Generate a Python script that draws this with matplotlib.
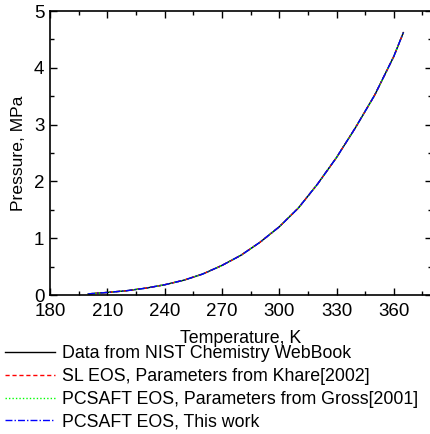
import matplotlib
matplotlib.use("Agg")
import matplotlib.pyplot as plt
import numpy as np
from matplotlib.ticker import MultipleLocator

plt.rcParams['font.family'] = ['Liberation Sans', 'DejaVu Sans']

temperature = [200, 210, 220, 230, 240, 250, 260, 270, 280, 290, 300, 310, 320, 330, 340, 350, 360, 365]
p_nist   = [0.02, 0.045, 0.075, 0.12, 0.18, 0.26, 0.37, 0.52, 0.70, 0.93, 1.20, 1.53, 1.95, 2.42, 2.95, 3.52, 4.20, 4.62]
p_sl     = [0.02, 0.045, 0.075, 0.12, 0.18, 0.26, 0.37, 0.52, 0.70, 0.93, 1.20, 1.53, 1.95, 2.42, 2.95, 3.52, 4.20, 4.62]
p_gross  = [0.02, 0.045, 0.075, 0.12, 0.18, 0.26, 0.37, 0.52, 0.70, 0.93, 1.20, 1.53, 1.95, 2.42, 2.95, 3.52, 4.20, 4.62]
p_this   = [0.02, 0.045, 0.075, 0.12, 0.18, 0.26, 0.37, 0.52, 0.70, 0.93, 1.20, 1.53, 1.95, 2.42, 2.95, 3.52, 4.20, 4.62]

labels = ["Data from NIST Chemistry WebBook",
          "SL EOS, Parameters from Khare[2002]",
          "PCSAFT EOS, Parameters from Gross[2001]",
          "PCSAFT EOS, This work"]

fig = plt.figure(figsize=(4.30, 4.34), dpi=100)
ax = fig.add_axes([50/430, (434-295)/434, (432-50)/430, (295-11)/434])

ax.plot(temperature, p_nist, color='black', lw=1.0, ls='-', label=labels[0])
ax.plot(temperature, p_sl, color='red', lw=1.0, ls=(0, (3, 2)), label=labels[1])
ax.plot(temperature, p_gross, color='#00ff00', lw=1.0, ls=(0, (1, 1.5)), label=labels[2])
ax.plot(temperature, p_this, color='blue', lw=1.0, ls=(0, (5, 1.5, 1, 1.5)), label=labels[3])

ax.set_xlim(180, 380)
ax.set_ylim(0, 5)
ax.xaxis.set_major_locator(MultipleLocator(30))
ax.xaxis.set_minor_locator(MultipleLocator(15))
ax.yaxis.set_major_locator(MultipleLocator(1))
ax.yaxis.set_minor_locator(MultipleLocator(0.5))
ax.tick_params(which='both', direction='in', top=True, right=True, labelsize=13.5)
ax.tick_params(which='major', length=5, width=1)
ax.tick_params(which='minor', length=3, width=1)
ax.tick_params(axis='x', pad=6)
ax.tick_params(axis='y', pad=4)
for s in ax.spines.values():
    s.set_linewidth(1.2)

ax.set_xlabel("Temperature, K", fontsize=12.8, labelpad=7)
ax.set_ylabel("Pressure, MPa", fontsize=12.6, labelpad=6)

fig.legend(loc='upper left', bbox_to_anchor=(5/430, 0.205), frameon=False,
           fontsize=12.8, handlelength=2.8, handletextpad=0.4,
           labelspacing=0.33, borderaxespad=0, borderpad=0)

fig.savefig("out.png", dpi=100)
